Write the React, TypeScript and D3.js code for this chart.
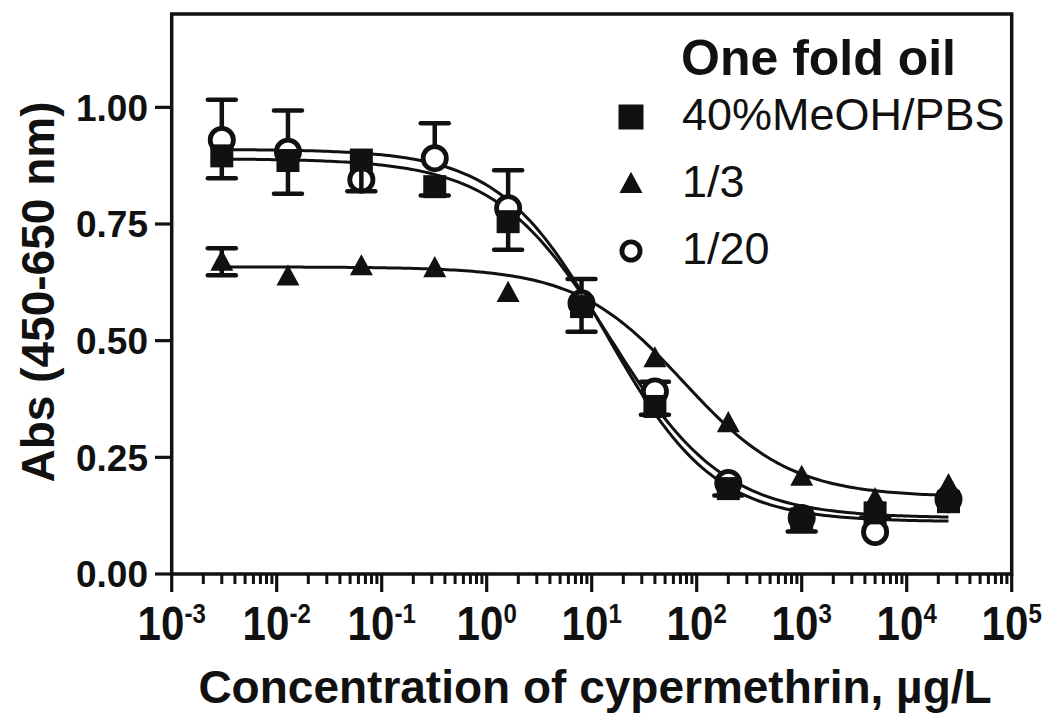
import React from "react";
import * as d3 from "d3";

// concentrations of cypermethrin (µg/L), 5-fold dilution series
const concentrations = [0.003, 0.0128, 0.064, 0.32, 1.6, 8, 40, 200, 1000, 5000, 25000];

// absorbance readings
const meohValues = [0.896, 0.886, 0.887, 0.83, 0.755, 0.573, 0.359, 0.183, 0.118, 0.131, 0.155];
const meohErrors = [0.048, 0.071, 0.067, 0.019, 0.06, 0.054, 0.018, 0.015, 0.027, 0.01, 0];
const oneThirdValues = [0.669, 0.637, 0.659, 0.655, 0.602, 0.575, 0.462, 0.323, 0.208, 0.16, 0.19];
const oneThirdErrors = [0.029, 0, 0, 0, 0, 0, 0, 0, 0, 0, 0];
const oneTwentiethValues = [0.93, 0.905, 0.845, 0.891, 0.784, 0.58, 0.391, 0.195, 0.12, 0.09, 0.16];
const oneTwentiethErrors = [0.086, 0.088, 0, 0.075, 0.081, 0.052, 0.021, 0, 0, 0, 0];

const seriesNames = ["40%MeOH/PBS", "1/3", "1/20"];
const seriesShapes = ["square", "triangle", "circle"];
const errorDirection = ["down", "both", "up"];

// four-parameter logistic fit
const fitTop = [0.89, 0.658, 0.91];
const fitBottom = [0.12, 0.165, 0.112];
const fitEC50 = [15, 75, 14];
const fitHill = [0.8, 0.85, 0.85];

const yTicks = [0, 0.25, 0.5, 0.75, 1.0];
const xDecades = [-3, -2, -1, 0, 1, 2, 3, 4, 5];

const legendTitle = "One fold oil";
const xTitle = "Concentration of cypermethrin, \u00b5g/L";
const yTitle = "Abs (450-650 nm)";

const W = 1050;
const H = 728;
const FONT = "'Liberation Sans', Arial, Helvetica, sans-serif";

const Marker = ({ shape, cx, cy, size }: { shape: string; cx: number; cy: number; size: number }) => {
  if (shape === "square") {
    return <rect x={cx - size / 2} y={cy - size / 2} width={size} height={size} fill="#111" />;
  }
  if (shape === "triangle") {
    const w = size;
    const h = size * 0.92;
    const p = d3.path();
    p.moveTo(cx, cy - h * 0.58);
    p.lineTo(cx + w / 2, cy + h * 0.42);
    p.lineTo(cx - w / 2, cy + h * 0.42);
    p.closePath();
    return <path d={p.toString()} fill="#111" />;
  }
  return <circle cx={cx} cy={cy} r={size / 2 - 2.4} fill="#fff" stroke="#111" strokeWidth={4.8} />;
};

export default function App() {
  const x = d3.scaleLog().domain([1e-3, 1e5]).range([171.7, 1011.7]);
  const y = d3.scaleLinear().domain([0, 1.2]).range([574, 14]);

  const values = [meohValues, oneThirdValues, oneTwentiethValues];
  const errors = [meohErrors, oneThirdErrors, oneTwentiethErrors];

  const logistic = (i: number, c: number) =>
    fitBottom[i] + (fitTop[i] - fitBottom[i]) / (1 + Math.pow(c / fitEC50[i], fitHill[i]));

  const lo = Math.log10(concentrations[0]);
  const hi = Math.log10(concentrations[concentrations.length - 1]);
  const curveX = d3.range(0, 201).map((k) => Math.pow(10, lo + ((hi - lo) * k) / 200));
  const line = d3
    .line<number>()
    .x((c) => x(c))
    .curve(d3.curveLinear);

  const minorTicks: number[] = [];
  for (let e = -3; e < 5; e++) {
    for (let m = 2; m <= 9; m++) minorTicks.push(m * Math.pow(10, e));
  }

  const drawOrder = [2, 0, 1];
  const capHalf = 14;

  return (
    <svg width={W} height={H} style={{ position: "absolute", left: 0, top: 0, background: "#fff" }} fontFamily={FONT}>
      <rect width={W} height={H} fill="#fff" />

      {/* frame */}
      <rect x={x(1e-3)} y={y(1.2)} width={x(1e5) - x(1e-3)} height={y(0) - y(1.2)} fill="none" stroke="#111" strokeWidth={3.5} />

      {/* y axis ticks */}
      {yTicks.map((t) => (
        <g key={t}>
          <line x1={155} x2={x(1e-3)} y1={y(t)} y2={y(t)} stroke="#111" strokeWidth={3.2} />
          <text x={148} y={y(t)} dy="0.36em" textAnchor="end" fontSize={37} fontWeight="bold" fill="#111">
            {d3.format(".2f")(t)}
          </text>
        </g>
      ))}

      {/* x axis ticks */}
      {minorTicks.map((t) => (
        <line key={t} x1={x(t)} x2={x(t)} y1={y(0)} y2={y(0) + 10} stroke="#111" strokeWidth={3} />
      ))}
      {xDecades.map((e) => (
        <g key={e}>
          <line x1={x(Math.pow(10, e))} x2={x(Math.pow(10, e))} y1={y(0)} y2={y(0) + 18} stroke="#111" strokeWidth={3.2} />
          <text
            transform={`translate(${x(Math.pow(10, e))}, 640) scale(0.86, 1)`}
            textAnchor="middle"
            fontWeight="bold"
            fill="#111"
          >
            <tspan fontSize={49}>10</tspan>
            <tspan fontSize={28} dy={-17}>
              {e < 0 ? "-" + Math.abs(e) : String(e)}
            </tspan>
          </text>
        </g>
      ))}

      {/* fitted curves */}
      {[0, 1, 2].map((i) => (
        <path
          key={"curve" + i}
          d={line.y((c) => y(logistic(i, c)))(curveX) || ""}
          fill="none"
          stroke="#111"
          strokeWidth={3}
        />
      ))}

      {/* error bars and symbols */}
      {drawOrder.map((i) => (
        <g key={"series" + i}>
          {concentrations.map((c, j) => {
            const v = values[i][j];
            const e = errors[i][j];
            if (!e) return null;
            const up = errorDirection[i] !== "down";
            const down = errorDirection[i] !== "up";
            const cx = x(c);
            const yTop = y(up ? v + e : v);
            const yBot = y(down ? v - e : v);
            return (
              <g key={j} stroke="#111" strokeWidth={4.5}>
                <line x1={cx} x2={cx} y1={yTop} y2={yBot} />
                {up && <line x1={cx - capHalf} x2={cx + capHalf} y1={yTop} y2={yTop} strokeLinecap="round" />}
                {down && <line x1={cx - capHalf} x2={cx + capHalf} y1={yBot} y2={yBot} strokeLinecap="round" />}
              </g>
            );
          })}
          {concentrations.map((c, j) => (
            <Marker
              key={"m" + j}
              shape={seriesShapes[i]}
              cx={x(c)}
              cy={y(values[i][j])}
              size={seriesShapes[i] === "circle" ? 28 : 23}
            />
          ))}
        </g>
      ))}

      {/* legend */}
      <text x={681} y={75} fontSize={50} fontWeight="bold" fill="#111">
        {legendTitle}
      </text>
      {seriesNames.map((name, i) => (
        <g key={name}>
          <Marker shape={seriesShapes[i]} cx={631} cy={117 + i * 67} size={i === 0 ? 25 : 23} />
          <text x={682} y={130 + i * 67} fontSize={45} fill="#111">
            {name}
          </text>
        </g>
      ))}

      {/* axis titles */}
      <text x={595} y={703} textAnchor="middle" fontSize={46} fontWeight="bold" fill="#111">
        {xTitle}
      </text>
      <text
        transform={`translate(54, ${292}) rotate(-90)`}
        textAnchor="middle"
        fontSize={46}
        fontWeight="bold"
        fill="#111"
      >
        {yTitle}
      </text>
    </svg>
  );
}
